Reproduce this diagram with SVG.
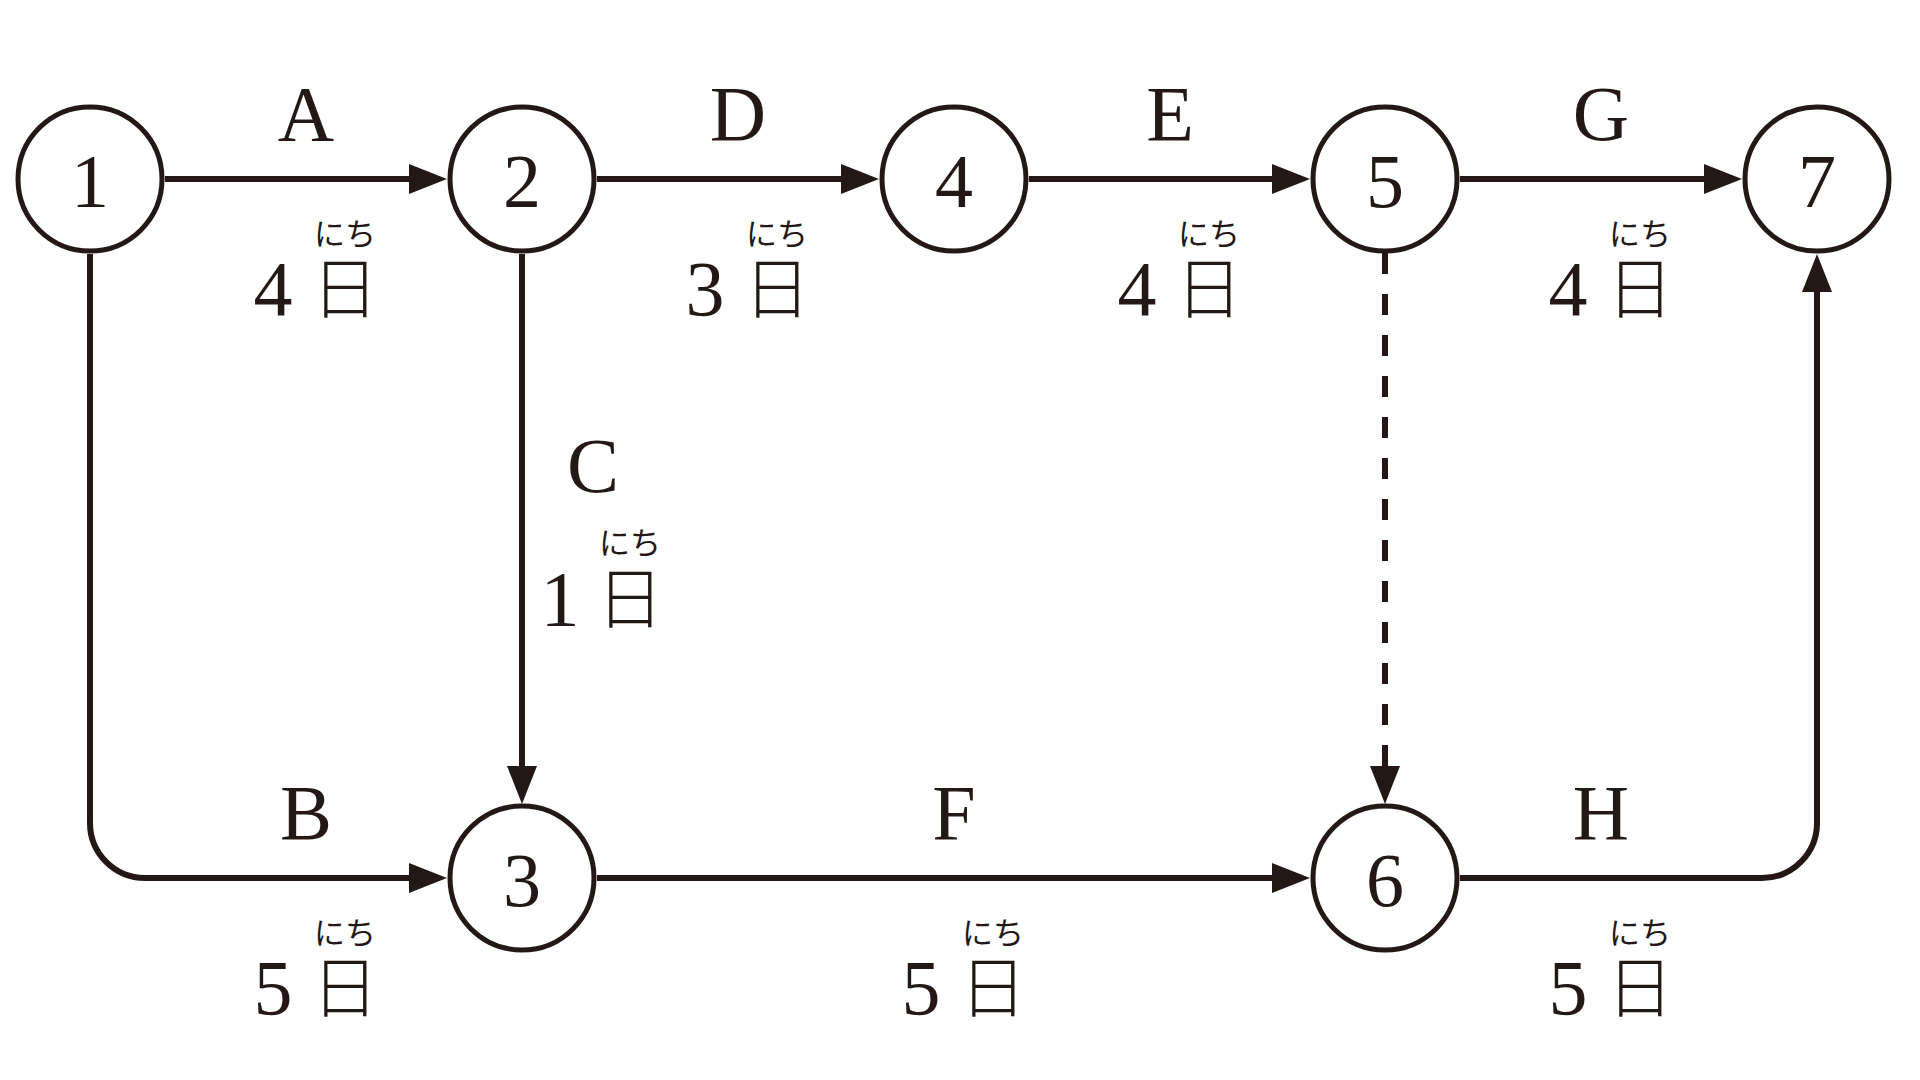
<svg xmlns="http://www.w3.org/2000/svg" width="1920" height="1080" viewBox="0 0 1920 1080">
<style>
.node circle{fill:#fff;stroke:#231815;stroke-width:5}
.num{font-family:"Liberation Serif","Times New Roman",serif;font-size:76px;fill:#231815;text-anchor:middle}
.lat{font-family:"Liberation Serif","Times New Roman",serif;font-size:78px;fill:#231815;text-anchor:middle}
.kan{font-family:"Noto Sans CJK JP",sans-serif;font-size:67px;font-weight:300;fill:#231815;text-anchor:middle}
.rb{font-family:"Noto Sans CJK JP",sans-serif;font-size:31px;fill:#231815;text-anchor:middle}
.edge{fill:none;stroke:#231815;stroke-width:6;marker-end:url(#ah)}
.dash{stroke-dasharray:21 20}
</style>
<defs>
<marker id="ah" markerUnits="userSpaceOnUse" viewBox="0 0 38 30" markerWidth="38" markerHeight="30" refX="1" refY="15" orient="auto">
<path d="M0,0 L38,15 L0,30 z" fill="#231815"/>
</marker>
</defs>
<rect width="1920" height="1080" fill="#fff"/>
<g id="connectors">
<path class="edge" d="M165,179 H410"/>
<path class="edge" d="M597,179 H842"/>
<path class="edge" d="M1029,179 H1273"/>
<path class="edge" d="M1460,179 H1705"/>
<path class="edge" d="M597,878 H1273"/>
<path class="edge" d="M90,254 V823 A55,55 0 0 0 145,878 H410"/>
<path class="edge" d="M522,254 V767"/>
<path class="edge dash" d="M1385,253 V767"/>
<path class="edge" d="M1460,878 H1762 A55,55 0 0 0 1817,823 V291"/>
</g>
<g id="labels">
<text class="lat" x="306" y="140">A</text>
<text class="rb" x="345" y="245">にち</text>
<text class="lat" x="273" y="315">4</text><text class="kan" x="345" y="313">日</text>

<text class="lat" x="738" y="140">D</text>
<text class="rb" x="777" y="245">にち</text>
<text class="lat" x="705" y="315">3</text><text class="kan" x="777" y="313">日</text>

<text class="lat" x="1170" y="140">E</text>
<text class="rb" x="1209" y="245">にち</text>
<text class="lat" x="1137" y="315">4</text><text class="kan" x="1209" y="313">日</text>

<text class="lat" x="1601" y="140">G</text>
<text class="rb" x="1640" y="245">にち</text>
<text class="lat" x="1568" y="315">4</text><text class="kan" x="1640" y="313">日</text>

<text class="lat" x="593" y="492">C</text>
<text class="rb" x="630" y="554">にち</text>
<text class="lat" x="560" y="625">1</text><text class="kan" x="630" y="623">日</text>

<text class="lat" x="306" y="839">B</text>
<text class="rb" x="345" y="944">にち</text>
<text class="lat" x="273" y="1014">5</text><text class="kan" x="345" y="1012">日</text>

<text class="lat" x="954" y="839">F</text>
<text class="rb" x="993" y="944">にち</text>
<text class="lat" x="921" y="1014">5</text><text class="kan" x="993" y="1012">日</text>

<text class="lat" x="1601" y="839">H</text>
<text class="rb" x="1640" y="944">にち</text>
<text class="lat" x="1568" y="1014">5</text><text class="kan" x="1640" y="1012">日</text>
</g>
<g id="n1" class="node"><circle cx="90" cy="179" r="72"/><text class="num" x="90" y="207">1</text></g>
<g id="n2" class="node"><circle cx="522" cy="179" r="72"/><text class="num" x="522" y="207">2</text></g>
<g id="n4" class="node"><circle cx="954" cy="179" r="72"/><text class="num" x="954" y="207">4</text></g>
<g id="n5" class="node"><circle cx="1385" cy="179" r="72"/><text class="num" x="1385" y="207">5</text></g>
<g id="n7" class="node"><circle cx="1817" cy="179" r="72"/><text class="num" x="1817" y="207">7</text></g>
<g id="n3" class="node"><circle cx="522" cy="878" r="72"/><text class="num" x="522" y="906">3</text></g>
<g id="n6" class="node"><circle cx="1385" cy="878" r="72"/><text class="num" x="1385" y="906">6</text></g>
</svg>
